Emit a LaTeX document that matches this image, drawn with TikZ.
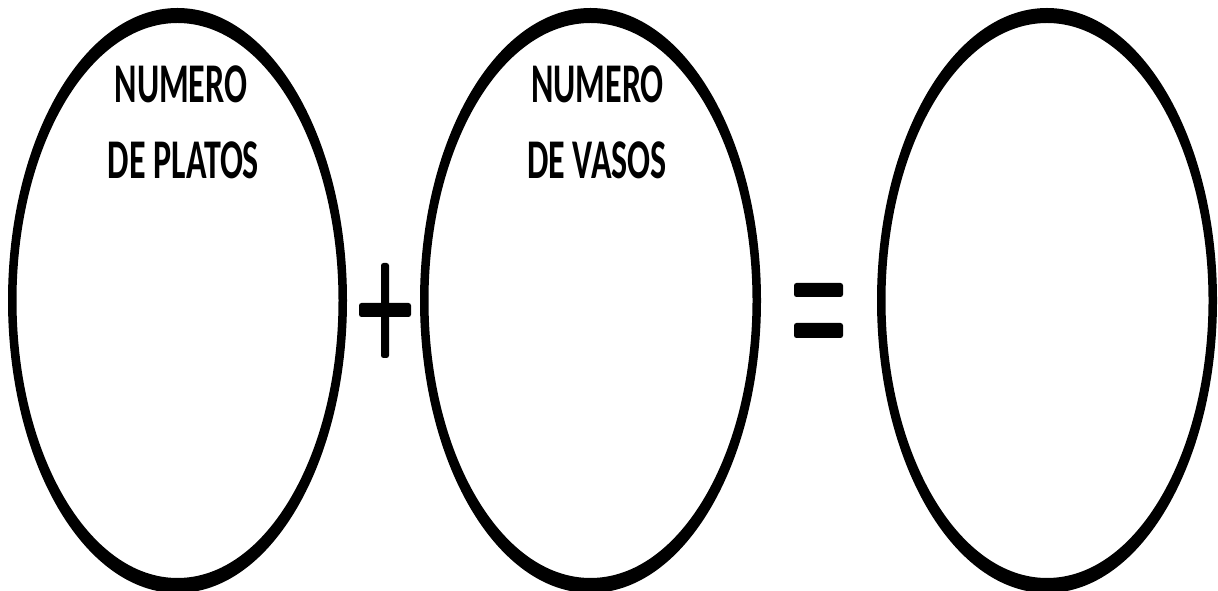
\documentclass[tikz,border=0pt]{standalone}
\usepackage{fontspec}
\setmainfont{Carlito}
\begin{document}
\begin{tikzpicture}[x=1pt,y=1pt,
  ring/.style={fill=black,even odd rule},
  label/.style={anchor=base,inner sep=0pt,font=\fontsize{34}{40}\selectfont\bfseries},
  bar/.style={fill=black,rounded corners=2.5pt}]
\useasboundingbox (0,0) rectangle (1218,591);
\clip (0,0) rectangle (1218,591);
% ellipses
\fill[ring] (177.5,290.5) ellipse [x radius=169.5, y radius=292.5]
            (177.5,290.5) ellipse [x radius=161, y radius=277.5];
\fill[ring] (590.5,290.5) ellipse [x radius=170.5, y radius=292.5]
            (590.5,290.5) ellipse [x radius=162, y radius=277.5];
\fill[ring] (1047,290.5) ellipse [x radius=170, y radius=292.5]
            (1047,290.5) ellipse [x radius=161.5, y radius=277.5];
% texts
\node[label] (a1) at (181,488) {\scalebox{1}[1.65]{NUMERO}};
\node[label] (a2) at (183.5,412) {\scalebox{1}[1.65]{DE PLATOS}};
\node[label] (b1) at (597.5,488) {\scalebox{1}[1.65]{NUMERO}};
\node[label] (b2) at (597,412) {\scalebox{1}[1.65]{DE VASOS}};
% plus
\fill[bar] (381,233) rectangle (389,328);
\fill[bar] (359,274) rectangle (411,288);
% equals
\fill[bar] (794,294) rectangle (843,308);
\fill[bar] (794,253) rectangle (843,268);
\end{tikzpicture}
\end{document}
